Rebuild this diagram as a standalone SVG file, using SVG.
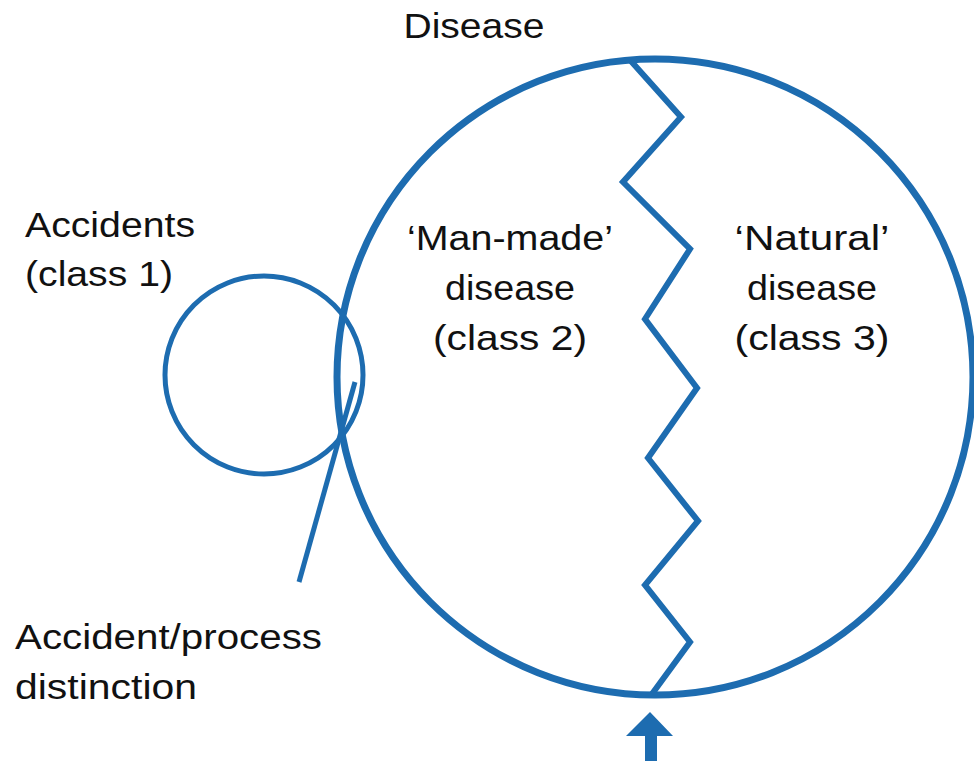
<svg xmlns="http://www.w3.org/2000/svg" width="974" height="761" viewBox="0 0 974 761">
  <style>
    .ln { fill: none; stroke: #1d6cb0; stroke-linejoin: miter; }
    .lbl { font-family: "Liberation Sans", Arial, sans-serif; font-size: 35px; fill: #111; }
    .mid { text-anchor: middle; }
  </style>
  <rect width="974" height="761" fill="#fff"/>

  <g id="disease">
    <circle class="ln" cx="655" cy="377" r="318" stroke-width="7"/>
    <text class="lbl mid" x="474" y="38" textLength="141" lengthAdjust="spacingAndGlyphs">Disease</text>
  </g>

  <g id="accidents">
    <circle class="ln" cx="264" cy="375" r="99" stroke-width="5"/>
    <text class="lbl" x="25" y="237" textLength="170" lengthAdjust="spacingAndGlyphs">Accidents</text>
    <text class="lbl" x="25" y="286" textLength="148" lengthAdjust="spacingAndGlyphs">(class 1)</text>
  </g>

  <g id="man-made">
    <text class="lbl mid" x="510" y="250" textLength="206" lengthAdjust="spacingAndGlyphs">‘Man-made’</text>
    <text class="lbl mid" x="510" y="300" textLength="130" lengthAdjust="spacingAndGlyphs">disease</text>
    <text class="lbl mid" x="510" y="350" textLength="154" lengthAdjust="spacingAndGlyphs">(class 2)</text>
  </g>

  <g id="natural">
    <text class="lbl mid" x="812" y="250" textLength="155" lengthAdjust="spacingAndGlyphs">‘Natural’</text>
    <text class="lbl mid" x="812" y="300" textLength="130" lengthAdjust="spacingAndGlyphs">disease</text>
    <text class="lbl mid" x="812" y="350" textLength="155" lengthAdjust="spacingAndGlyphs">(class 3)</text>
  </g>

  <g id="distinction">
    <text class="lbl" x="15" y="649" textLength="307" lengthAdjust="spacingAndGlyphs">Accident/process</text>
    <text class="lbl" x="15" y="699" textLength="182" lengthAdjust="spacingAndGlyphs">distinction</text>
  </g>

  <g id="connectors">
    <!-- boundary between man-made and natural disease -->
    <polyline class="ln" stroke-width="6" points="630,60 681,117 623,182 690,249 645,319 697,388 648,458 698,521 645,585 690,642 652,694"/>
    <!-- pointer to the accident/process distinction -->
    <line class="ln" stroke-width="5" x1="299" y1="582" x2="355" y2="382"/>
    <!-- upward arrow under the disease circle -->
    <polygon fill="#1d6cb0" points="650,712 673,736 657,736 657,761 645,761 645,736 626,736"/>
  </g>
</svg>
